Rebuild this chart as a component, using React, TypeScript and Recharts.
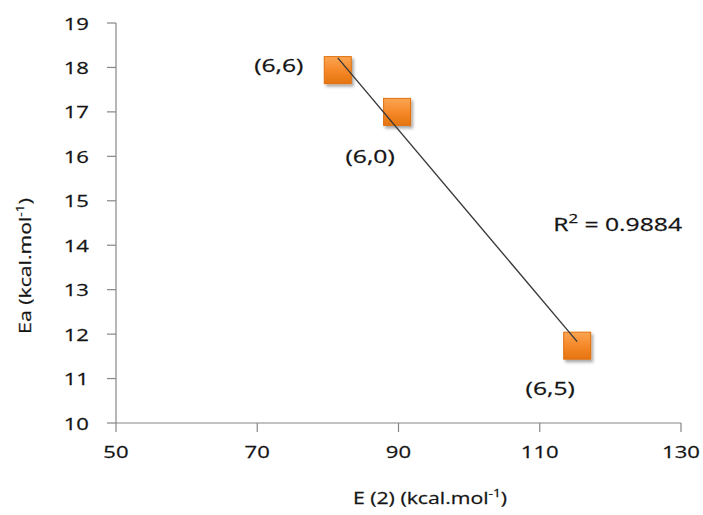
import React from 'react';
import { ScatterChart, Scatter, XAxis, YAxis, ReferenceDot } from 'recharts';

// ---- data ----
const pointLabels = ['(6,6)', '(6,0)', '(6,5)'];
const xValues = [81.4, 89.8, 115.3]; // E(2) kcal/mol
const yValues = [17.94, 17.0, 11.74]; // Ea kcal/mol
const xTicks = [50, 70, 90, 110, 130];
const yTicks = [10, 11, 12, 13, 14, 15, 16, 17, 18, 19];
const r2Value = '0.9884';
const r2Anchor = { x: 111.9, y: 14.45 };

const points = xValues.map((x, i) => ({ x, y: yValues[i], label: pointLabels[i] }));

// linear trend line (least squares) through the points
const n = xValues.length;
const mx = xValues.reduce((a, b) => a + b, 0) / n;
const my = yValues.reduce((a, b) => a + b, 0) / n;
let sxy = 0, sxx = 0;
xValues.forEach((x, i) => { sxy += (x - mx) * (yValues[i] - my); sxx += (x - mx) * (x - mx); });
const slope = sxy / sxx;
const icpt = my - slope * mx;
const xMin = Math.min(...xValues);
const xMax = Math.max(...xValues);
const trendData = [
  { x: xMin, y: icpt + slope * xMin },
  { x: xMax, y: icpt + slope * xMax },
];

// ---- styles ----
const FONT = "'Open Sans', sans-serif";
const TEXT = '#141414';
const AXIS = '#868686';
const labelOffsets = [
  { dx: -59, dy: 2 },
  { dx: -27, dy: 51 },
  { dx: -27, dy: 49 },
];

function STxt({ x, y, anchor = 'middle', size = 16, sx = 1.3, rotate = false, children }: any) {
  const tf = `translate(${x},${y})${rotate ? ' rotate(-90)' : ''} scale(${sx},1)`;
  return (
    <text transform={tf} textAnchor={anchor} fontSize={size} fontFamily={FONT} fill={TEXT} stroke={TEXT} strokeWidth={0.25}>
      {children}
    </text>
  );
}

const MarkerShape = (props: any) => {
  const { cx, cy, payload } = props;
  if (cx == null || cy == null) return <g />;
  const s = 27;
  const idx = pointLabels.indexOf(payload?.label);
  const off = labelOffsets[idx] || { dx: 0, dy: 0 };
  return (
    <g>
      <rect x={cx - s / 2} y={cy - s / 2} width={s} height={s} fill="url(#mkGrad)" stroke="#E0700F" strokeWidth={1} filter="url(#mkShadow)" />
      <STxt x={cx + off.dx} y={cy + off.dy} size={19}>{payload?.label}</STxt>
    </g>
  );
};

const YTick = (props: any) => {
  const { x, y, payload } = props;
  return <STxt x={x} y={y + 6.5} anchor="end" size={17}>{payload.value}</STxt>;
};

const XTick = (props: any) => {
  const { x, y, payload } = props;
  return <STxt x={x} y={y + 26} anchor="middle" size={17}>{payload.value}</STxt>;
};

export default function App() {
  return (
    <div style={{ position: 'absolute', left: 0, top: 0, width: 703, height: 515, background: '#fff' }}>
      <svg width={0} height={0} style={{ position: 'absolute' }}>
        <defs>
          <linearGradient id="mkGrad" x1="0" y1="0" x2="0" y2="1">
            <stop offset="0%" stopColor="#FBA552" />
            <stop offset="50%" stopColor="#F6892A" />
            <stop offset="100%" stopColor="#E5740F" />
          </linearGradient>
          <filter id="mkShadow" x="-30%" y="-30%" width="170%" height="170%">
            <feDropShadow dx="2" dy="2.5" stdDeviation="1.6" floodColor="#000" floodOpacity="0.35" />
          </filter>
        </defs>
      </svg>
      <ScatterChart width={703} height={515} margin={{ top: 23, right: 22, bottom: 0, left: 0 }}>
        <XAxis
          type="number"
          dataKey="x"
          domain={[50, 130]}
          ticks={xTicks}
          interval={0}
          allowDataOverflow
          tickSize={9}
          tickMargin={0}
          height={92}
          axisLine={{ stroke: AXIS, strokeWidth: 1.2 }}
          tickLine={{ stroke: AXIS, strokeWidth: 1.2 }}
          tick={<XTick />}
        />
        <YAxis
          type="number"
          dataKey="y"
          domain={[10, 19]}
          ticks={yTicks}
          interval={0}
          allowDataOverflow
          tickSize={9}
          tickMargin={18}
          width={116}
          axisLine={{ stroke: AXIS, strokeWidth: 1.2 }}
          tickLine={{ stroke: AXIS, strokeWidth: 1.2 }}
          tick={<YTick />}
        />
        <Scatter data={points} shape={<MarkerShape />} isAnimationActive={false} legendType="none" />
        <Scatter
          data={trendData}
          line={{ stroke: '#3a3a3a', strokeWidth: 1.4 }}
          lineType="joint"
          shape={() => <g />}
          isAnimationActive={false}
          legendType="none"
        />
        <ReferenceDot
          x={r2Anchor.x}
          y={r2Anchor.y}
          r={0}
          shape={(p: any) => (
            <STxt x={p.cx} y={p.cy + 6} anchor="start" size={19}>
              R<tspan fontSize={13} dy={-8}>2</tspan><tspan dy={8}> = {r2Value}</tspan>
            </STxt>
          )}
        />
      </ScatterChart>
      <svg width={703} height={515} style={{ position: 'absolute', left: 0, top: 0, pointerEvents: 'none' }}>
        <STxt x={430} y={504} size={17} sx={1.25}>
          E (2) (kcal.mol<tspan fontSize={11} dy={-7}>-1</tspan><tspan dy={7}>)</tspan>
        </STxt>
        <STxt x={31} y={266} size={17} sx={1.25} rotate>
          Ea (kcal.mol<tspan fontSize={11} dy={-7}>-1</tspan><tspan dy={7}>)</tspan>
        </STxt>
      </svg>
    </div>
  );
}
